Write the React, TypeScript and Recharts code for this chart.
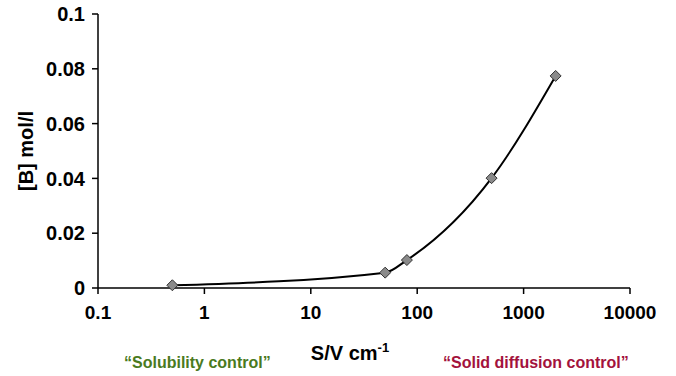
import { LineChart, Line, XAxis, YAxis } from "recharts";

const sv = [0.5, 50, 80, 500, 2000];
const conc = [0.001, 0.0056, 0.0102, 0.0401, 0.0774];
const xTicks = [0.1, 1, 10, 100, 1000, 10000];
const yTicks = [0, 0.02, 0.04, 0.06, 0.08, 0.1];

const data = sv.map((s, i) => ({ sv: s, conc: conc[i] }));

const font = "'Liberation Sans', Arial, Helvetica, sans-serif";

// gray diamond marker
function Diamond(props: any) {
  const { cx, cy } = props;
  if (cx == null || cy == null) return null;
  const r = 5.5;
  return (
    <polygon
      points={`${cx},${cy - r} ${cx + r},${cy} ${cx},${cy + r} ${cx - r},${cy}`}
      fill="#8a8a8a"
      stroke="#333"
      strokeWidth={1}
    />
  );
}

export default function App() {
  return (
    <div style={{ position: "absolute", left: 0, top: 0, width: 676, height: 376, background: "#fff", fontFamily: font }}>
      <LineChart width={676} height={376} data={data} margin={{ top: 14, right: 46, bottom: 48, left: 8 }}>
        <XAxis
          dataKey="sv"
          type="number"
          scale="log"
          domain={[0.1, 10000]}
          ticks={xTicks}
          allowDataOverflow
          height={40}
          tickSize={6}
          tickMargin={12}
          stroke="#000"
          strokeWidth={1.5}
          tick={{ fill: "#000", fontSize: 19, fontWeight: "bold", fontFamily: font }}
        />
        <YAxis
          type="number"
          domain={[0, 0.1]}
          ticks={yTicks}
          width={90}
          tickSize={6}
          tickMargin={7}
          stroke="#000"
          strokeWidth={1.5}
          tick={{ fill: "#000", fontSize: 20, fontWeight: "bold", fontFamily: font }}
          label={{ value: "[B] mol/l", angle: -90, position: "center", dx: -27, fill: "#000", fontSize: 20, fontWeight: "bold", fontFamily: font }}
        />
        <Line
          dataKey="conc"
          type="monotone"
          stroke="#000"
          strokeWidth={2}
          dot={<Diamond />}
          activeDot={false}
          isAnimationActive={false}
        />
      </LineChart>
      <div style={{ position: "absolute", left: 290, top: 340, width: 120, textAlign: "center", fontSize: 20, fontWeight: "bold", color: "#000" }}>
        S/V cm<sup style={{ fontSize: 13 }}>-1</sup>
      </div>
      <div style={{ position: "absolute", left: 124, top: 354, fontSize: 16, fontWeight: "bold", color: "#4a7a1e" }}>
        “Solubility control”
      </div>
      <div style={{ position: "absolute", left: 443, top: 354, fontSize: 16, fontWeight: "bold", color: "#a3123c" }}>
        “Solid diffusion control”
      </div>
    </div>
  );
}
